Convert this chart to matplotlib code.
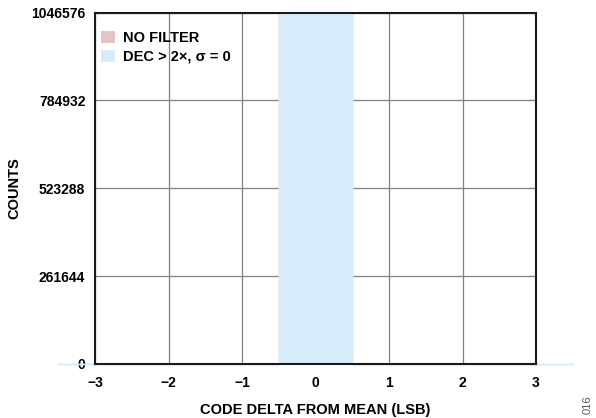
import numpy as np
import matplotlib
matplotlib.use('Agg')
import matplotlib.pyplot as plt
from matplotlib import patches as mpatches

plt.rcParams['font.family'] = ['Liberation Sans', 'DejaVu Sans']
plt.rcParams['font.weight'] = 'bold'

########  data  #########

# code delta bins (LSB) and counts per bin
bin_centers = [-3, -2, -1, 0, 1, 2, 3]
nofilter_counts = [0, 0, 0, 1046576, 0, 0, 0]
dec_counts = [0, 0, 0, 1046576, 0, 0, 0]

yticks = [0, 261644, 523288, 784932, 1046576]
xticks = [-3, -2, -1, 0, 1, 2, 3]
xticklabels = ['\u22123', '\u22122', '\u22121', '0', '1', '2', '3']

labels = ['NO FILTER', 'DEC > 2\u00d7, \u03c3 = 0']
colors = ['#e6c4c4', '#d7ecfa']

####################################

fig = plt.figure(figsize=(5.96, 4.18), dpi=100)
ax = fig.add_axes([0.1594, 0.1292, 0.740, 0.8408])

edges = np.concatenate([np.array(bin_centers) - 0.5, [bin_centers[-1] + 0.5]])

# no filter histogram sits behind the decimated one, both above the grid
for counts, color in zip([nofilter_counts, dec_counts], colors):
    ax.stairs(counts, edges, fill=True, color=color, linewidth=0, zorder=2)
    ax.stairs(counts, edges, fill=False, color=color, linewidth=1,
              baseline=None, zorder=2, clip_on=False)

ax.set_xlim(-3, 3)
ax.set_ylim(0, yticks[-1])
ax.set_xticks(xticks)
ax.set_xticklabels(xticklabels)
ax.set_yticks(yticks)
ax.set_yticklabels([str(t) for t in yticks])
ax.tick_params(length=0, labelsize=10)
ax.tick_params(axis='y', pad=7)
ax.tick_params(axis='x', pad=9)
for lab in ax.get_xticklabels() + ax.get_yticklabels():
    lab.set_fontweight('bold')

ax.set_axisbelow(True)
ax.grid(True, color='#7f7f7f', linewidth=0.9)
for sp in ax.spines.values():
    sp.set_linewidth(1.5)
    sp.set_color('#1a1a1a')
    sp.set_zorder(3)

ax.set_xlabel('CODE DELTA FROM MEAN (LSB)', fontsize=10.5, fontweight='bold', labelpad=9)
ax.set_ylabel('COUNTS', fontsize=10.5, fontweight='bold', labelpad=7)

handles = [mpatches.Patch(facecolor=c, edgecolor='none', label=l)
           for c, l in zip(colors, labels)]
ax.legend(handles=handles, loc='upper left', bbox_to_anchor=(0.0, 0.965),
          frameon=False, handlelength=0.95, handleheight=0.9,
          handletextpad=0.55, labelspacing=0.35, borderaxespad=0,
          prop={'weight': 'bold', 'size': 10.5})

fig.text(0.995, 0.01, '016', rotation=90, fontsize=8, color='#555555',
         fontweight='normal', ha='right', va='bottom')

fig.savefig('out.png', dpi=100)
